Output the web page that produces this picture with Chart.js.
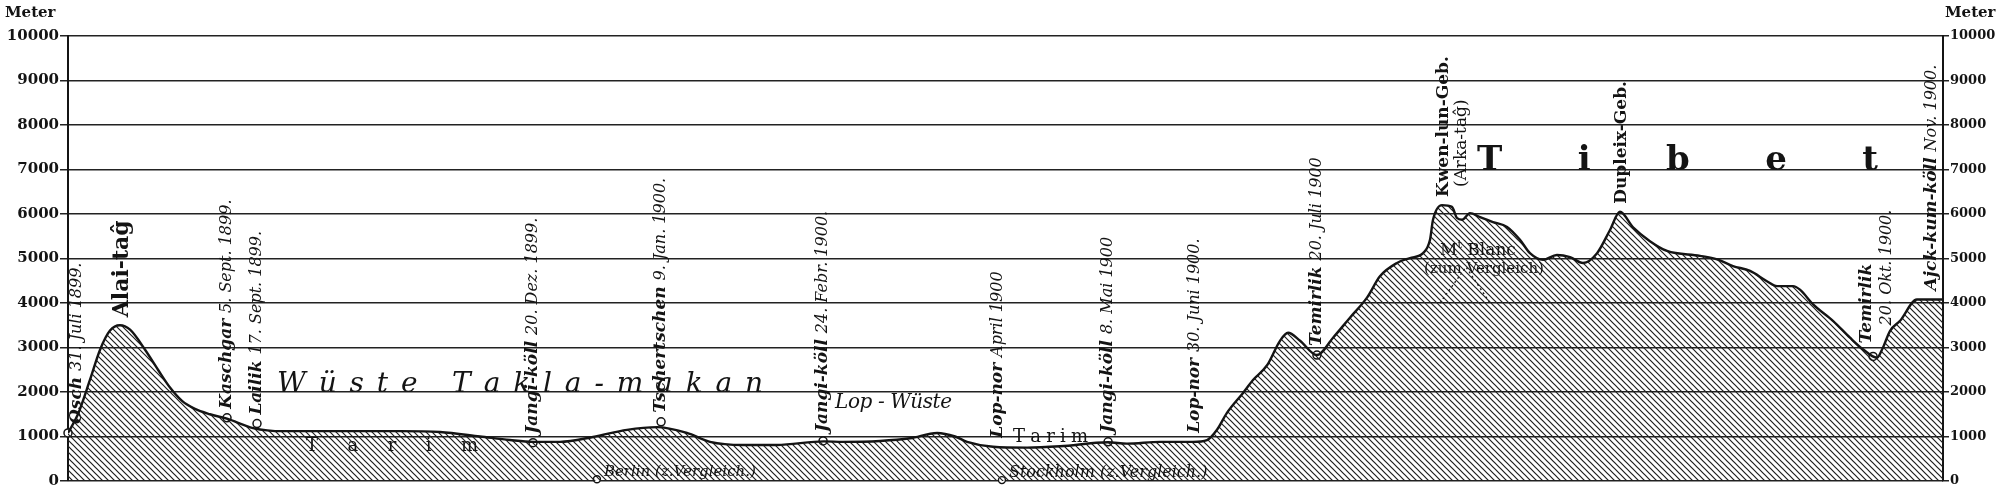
<!DOCTYPE html>
<html>
<head>
<meta charset="utf-8">
<script src="https://cdn.jsdelivr.net/npm/chart.js@4/dist/chart.umd.min.js"></script>
<style>
  html, body { margin: 0; padding: 0; background: #fff; }
  canvas { display: block; }
</style>
</head>
<body>
<canvas id="profile-chart" width="2000" height="492"></canvas>
<script>
// distance along the route in % of the profile width, elevation in metres
const profileDist = [
  0, 0.53, 1.17, 1.71, 2.24, 2.77, 3.31, 4.11, 4.8, 5.44, 6.08, 6.77, 7.57, 8.48, 9.87,
  11.47, 14.13, 17.71, 19.84, 21.97, 23.57, 24.8, 26.24, 28.0, 29.81, 31.41, 33.01,
  34.24, 36.0, 37.81, 40.32, 41.33, 43.31, 44.91, 46.35, 47.31, 47.95, 49.33, 51.15,
  52.91, 55.47, 56.48, 58.24, 60.0, 60.75, 61.28, 61.81, 62.67, 63.2, 63.95, 64.64,
  65.07, 65.71, 66.61, 67.47, 68.37, 69.28, 69.97, 70.88, 71.57, 72.27, 72.64, 72.8,
  73.28, 73.81, 74.08, 74.35, 74.77, 75.31, 76.0, 76.75, 77.44, 77.97, 78.67, 79.41,
  80.11, 80.8, 81.55, 82.24, 82.77, 83.47, 84.37, 85.28, 87.04, 87.95, 88.8, 89.71,
  90.61, 91.15, 92.0, 92.37, 93.07, 94.13, 95.04, 95.73, 96.48, 96.8, 97.17, 97.71,
  98.61, 100
];
const profileElev = [
  1080, 1500, 2270, 2950, 3380, 3500, 3400, 2950, 2500, 2100, 1800, 1620, 1500, 1400, 1190,
  1120, 1120, 1120, 1100, 1000, 920, 880, 880, 990, 1150, 1210, 1080,
  880, 810, 810, 890, 880, 900, 960, 1080, 1000, 880, 770, 750,
  780, 870, 840, 880, 880, 920, 1150, 1530, 1980, 2270, 2600, 3150,
  3330, 3150, 2830, 3220, 3670, 4120, 4600, 4900, 5010, 5120, 5420, 5870,
  6200, 6160, 5910, 5870, 6020, 5930, 5820, 5710, 5420, 5120, 4970, 5080,
  5030, 4900, 5120, 5640, 6050, 5700, 5390, 5170, 5060, 4980, 4830, 4720,
  4490, 4380, 4380, 4300, 3970, 3600, 3220, 2960, 2770, 3000, 3370, 3600,
  4080, 4080
];

const stationNames = [
  "Osch", "Kaschgar", "Lailik", "Jangi-köll", "Tschertschen", "Jangi-köll",
  "Lop-nor", "Jangi-köll", "Lop-nor", "Temirlik", "Temirlik", "Ajck-kum-köll"
];
const stationDates = [
  "31. Juli 1899.", "5. Sept. 1899.", "17. Sept. 1899.", "20. Dez. 1899.", "9. Jan. 1900.",
  "24. Febr. 1900.", "April 1900", "8. Mai 1900", "30. Juni 1900.", "20. Juli 1900",
  "20. Okt. 1900.", "Nov. 1900."
];
const stationDist = [0, 8.48, 10.08, 24.8, 31.63, 40.27, 49.6, 55.47, 60.1, 66.61, 96.27, 99.41];
const stationElev = [1080, 1420, 1290, 860, 1330, 900, 770, 880, 880, 2830, 2800, 4080];
const stationMarked = [true, true, true, true, true, true, false, true, false, true, true, false];

const peakNames = ["Alai-taĝ", "Kwen-lun-Geb.", "Dupleix-Geb."];
const peakNotes = ["", "(Arka-taĝ)", ""];
const peakDist = [2.77, 73.28, 82.77];
const peakElev = [3500, 6200, 6050];

const compareNames = ["Berlin", "Stockholm"];
const compareNotes = ["(z.Vergleich.)", "(z.Vergleich.)"];
const compareDist = [28.21, 49.81];
const compareElev = [40, 20];

const montBlancDist = [73.17, 74.56, 75.84];
const montBlancElev = [4000, 4808, 4000];

const regionNames = ["Wüste Takla-makan", "Lop - Wüste", "Tarim", "Tarim", "Tibet"];
const regionStart = [11.15, 40.91, 12.69, 50.4, 75.15];
const regionEnd = [37.07, 47.15, 21.87, 54.4, 96.53];
const regionElev = [1990, 1640, 680, 880, 7000];

const elevationTicks = [0, 1000, 2000, 3000, 4000, 5000, 6000, 7000, 8000, 9000, 10000];

const SERIF = '"DejaVu Serif", "Liberation Serif", serif';
const INK = "#141414";

// hatch fill for the profile
const tile = document.createElement("canvas");
tile.width = 6;
tile.height = 6;
const tileCtx = tile.getContext("2d");
tileCtx.strokeStyle = "#1e1e1e";
tileCtx.lineWidth = 1.2;
tileCtx.beginPath();
tileCtx.moveTo(-1, -1);
tileCtx.lineTo(7, 7);
tileCtx.moveTo(-1, 5);
tileCtx.lineTo(1, 7);
tileCtx.moveTo(5, -1);
tileCtx.lineTo(7, 1);
tileCtx.stroke();

const chartCanvas = document.getElementById("profile-chart");
const chartContext = chartCanvas.getContext("2d");
const hatch = chartContext.createPattern(tile, "repeat");

function toPoints(xs, ys) {
  return xs.map((x, i) => ({ x, y: ys[i] }));
}

function drawUpward(ctx, x, yBottom, parts) {
  ctx.save();
  ctx.translate(x, yBottom);
  ctx.rotate(-Math.PI / 2);
  ctx.textBaseline = "middle";
  ctx.textAlign = "left";
  let offset = 0;
  parts.forEach(([text, font]) => {
    ctx.font = font;
    ctx.fillText(text, offset, 0);
    offset += ctx.measureText(text).width;
  });
  ctx.restore();
}

function drawSpread(ctx, text, left, right, baseline, font) {
  ctx.font = font;
  ctx.textAlign = "left";
  ctx.textBaseline = "alphabetic";
  const chars = [...text];
  const widths = chars.map((c) => ctx.measureText(c).width);
  const natural = widths.reduce((a, b) => a + b, 0);
  const gap = chars.length > 1 ? (right - left - natural) / (chars.length - 1) : 0;
  let x = left;
  chars.forEach((c, i) => {
    ctx.fillText(c, x, baseline);
    x += widths[i] + gap;
  });
}

const regionFonts = {
  "Wüste Takla-makan": `italic 28px ${SERIF}`,
  "Lop - Wüste": `italic 20px ${SERIF}`,
  "Tarim": `18px ${SERIF}`,
  "Tibet": `bold 34px ${SERIF}`
};

const labelPlugin = {
  id: "profileLabels",
  afterDraw(chart) {
    const { ctx, chartArea } = chart;
    const xs = chart.scales.x;
    const ys = chart.scales.y;
    ctx.save();
    ctx.fillStyle = INK;

    // axis titles
    ctx.font = `bold 15px ${SERIF}`;
    ctx.textBaseline = "middle";
    ctx.textAlign = "left";
    ctx.fillText("Meter", 5, 13);
    ctx.fillText("Meter", chartArea.right + 2, 13);

    // stations
    stationNames.forEach((name, i) => {
      let x = xs.getPixelForValue(stationDist[i]);
      const y = ys.getPixelForValue(stationElev[i]) - 9;
      if (x - 9 < chartArea.left) x = chartArea.left + 9;
      const nameFont = `bold italic 17px ${SERIF}`;
      const dateFont = `italic 16px ${SERIF}`;
      if (stationDates[i].includes("Okt")) {
        drawUpward(ctx, x - 6, y - 4, [[name, nameFont]]);
        drawUpward(ctx, x + 14, y - 22, [[stationDates[i], dateFont]]);
      } else {
        drawUpward(ctx, x, y, [[name + " ", nameFont], [stationDates[i], dateFont]]);
      }
    });

    // peaks
    peakNames.forEach((name, i) => {
      const x = xs.getPixelForValue(peakDist[i]);
      const y = ys.getPixelForValue(peakElev[i]) - 8;
      const size = i === 0 ? 22 : 17;
      drawUpward(ctx, x + 2, y, [[name, `bold ${size}px ${SERIF}`]]);
      if (peakNotes[i]) {
        drawUpward(ctx, x + 20, y - 10, [[peakNotes[i], `17px ${SERIF}`]]);
      }
    });

    // comparison points
    compareNames.forEach((name, i) => {
      const x = xs.getPixelForValue(compareDist[i]) + 7;
      const y = ys.getPixelForValue(compareElev[i]) - 3;
      ctx.font = `italic ${i === 0 ? 15 : 16}px ${SERIF}`;
      ctx.textAlign = "left";
      ctx.textBaseline = "alphabetic";
      ctx.fillText(name + " " + compareNotes[i], x, y);
    });

    // Mont Blanc
    const mbX = xs.getPixelForValue(montBlancDist[1]) + 12;
    const mbY = ys.getPixelForValue(montBlancElev[1]);
    ctx.textBaseline = "alphabetic";
    ctx.font = `17px ${SERIF}`;
    const mW = ctx.measureText("M").width;
    ctx.font = `11px ${SERIF}`;
    const tW = ctx.measureText("t").width;
    ctx.font = `17px ${SERIF}`;
    const restW = ctx.measureText(" Blanc").width;
    const mx = mbX - (mW + tW + restW) / 2;
    ctx.textAlign = "left";
    ctx.fillText("M", mx, mbY - 12);
    ctx.font = `11px ${SERIF}`;
    ctx.fillText("t", mx + mW, mbY - 19);
    ctx.font = `17px ${SERIF}`;
    ctx.fillText(" Blanc", mx + mW + tW, mbY - 12);
    ctx.font = `15px ${SERIF}`;
    ctx.textAlign = "center";
    ctx.fillText("(zum Vergleich)", mbX + 6, mbY + 6);

    // regions
    regionNames.forEach((name, i) => {
      const left = xs.getPixelForValue(regionStart[i]);
      const right = xs.getPixelForValue(regionEnd[i]);
      const base = ys.getPixelForValue(regionElev[i]);
      drawSpread(ctx, name, left, right, base, regionFonts[name]);
    });

    ctx.restore();
  }
};

const tickFont = (size) => ({ family: SERIF, weight: "bold", size });

const chart = new Chart(chartContext, {
  type: "line",
  data: {
    datasets: [
      {
        label: "Profil",
        data: toPoints(profileDist, profileElev),
        borderColor: INK,
        borderWidth: 2.4,
        backgroundColor: hatch,
        fill: "origin",
        pointRadius: 0,
        cubicInterpolationMode: "monotone"
      },
      {
        label: "Mont Blanc",
        data: toPoints(montBlancDist, montBlancElev),
        borderColor: "#222",
        borderWidth: 1.4,
        borderDash: [2, 3],
        pointRadius: 0,
        fill: false
      },
      {
        label: "Stationen",
        data: toPoints(
          stationDist.filter((_, i) => stationMarked[i]),
          stationElev.filter((_, i) => stationMarked[i])
        ),
        showLine: false,
        clip: false,
        pointRadius: 4,
        pointBackgroundColor: "#fff",
        pointBorderColor: INK,
        pointBorderWidth: 1.5
      },
      {
        label: "Vergleich",
        data: toPoints(compareDist, compareElev),
        showLine: false,
        clip: false,
        pointRadius: 3.5,
        pointBackgroundColor: "#fff",
        pointBorderColor: INK,
        pointBorderWidth: 1.4
      }
    ]
  },
  options: {
    responsive: false,
    animation: false,
    devicePixelRatio: 1,
    layout: { padding: { top: 36, bottom: 11, left: 0, right: 0 } },
    plugins: {
      legend: { display: false },
      tooltip: { enabled: false }
    },
    scales: {
      x: { type: "linear", min: 0, max: 100, display: false },
      y: {
        position: "left",
        min: 0,
        max: 10000,
        z: 1,
        afterFit: (scale) => { scale.width = 68; },
        afterBuildTicks: (scale) => { scale.ticks = elevationTicks.map((v) => ({ value: v })); },
        ticks: { padding: 1, color: INK, font: tickFont(15), callback: (v) => String(v) },
        grid: { color: "#222", lineWidth: 1.5, tickLength: 8 },
        border: { color: INK, width: 2 }
      },
      y2: {
        position: "right",
        min: 0,
        max: 10000,
        z: 1,
        afterFit: (scale) => { scale.width = 57; },
        afterBuildTicks: (scale) => { scale.ticks = elevationTicks.map((v) => ({ value: v })); },
        ticks: { padding: 1, color: INK, font: tickFont(13), callback: (v) => String(v) },
        grid: { drawOnChartArea: false, color: "#222", lineWidth: 1.5, tickLength: 6 },
        border: { color: INK, width: 2 }
      }
    }
  },
  plugins: [labelPlugin]
});
</script>
</body>
</html>
